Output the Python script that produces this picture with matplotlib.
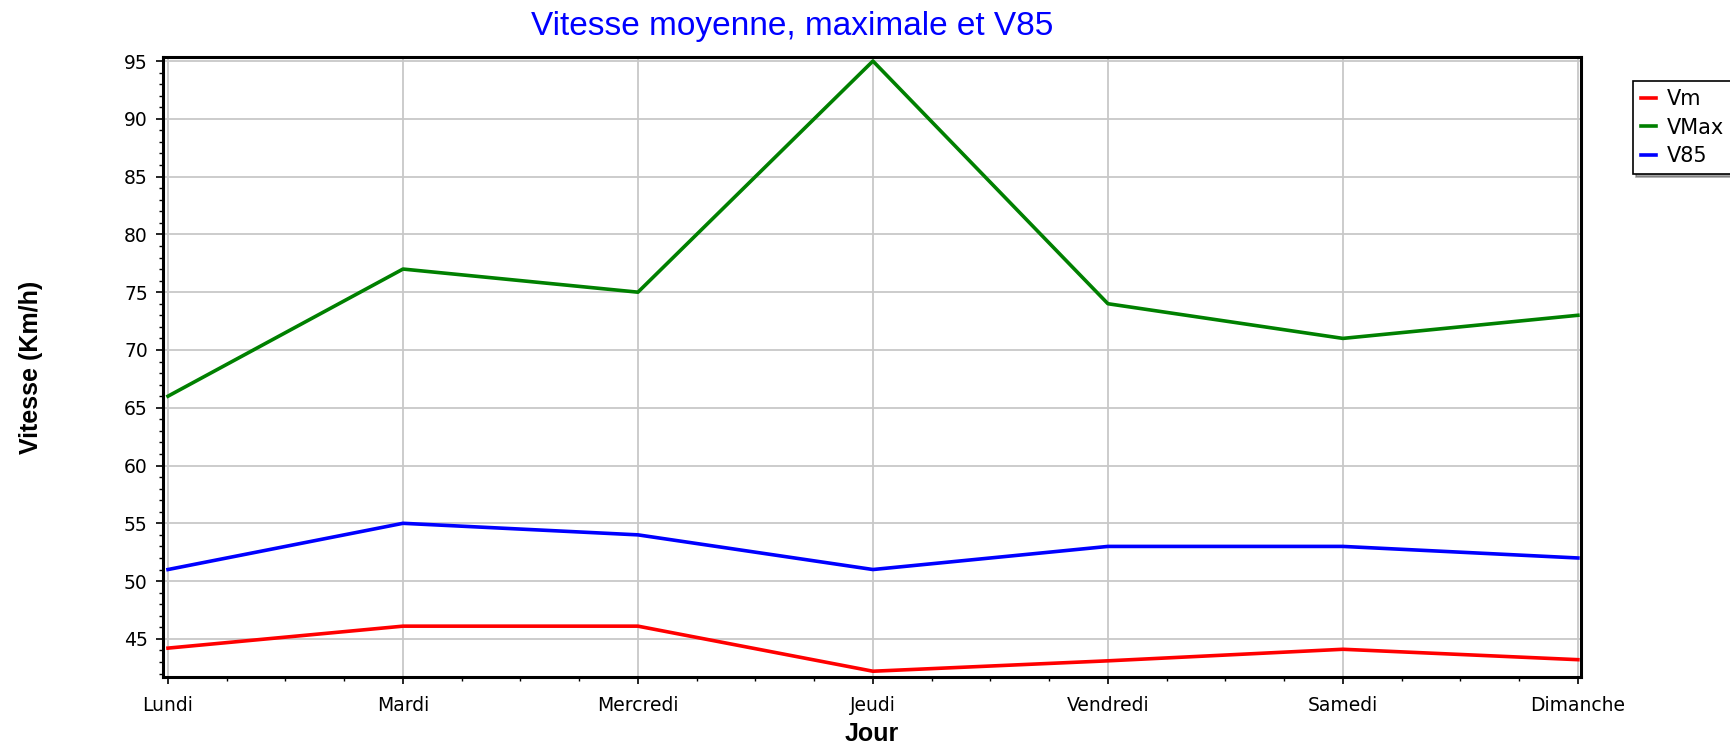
import matplotlib.pyplot as plt
from matplotlib.ticker import MultipleLocator, AutoMinorLocator

# donnees
jours = ['Lundi', 'Mardi', 'Mercredi', 'Jeudi', 'Vendredi', 'Samedi', 'Dimanche']
vm = [44.2, 46.1, 46.1, 42.2, 43.1, 44.1, 43.2]
vmax = [66, 77, 75, 95, 74, 71, 73]
v85 = [51, 55, 54, 51, 53, 53, 52]

plt.rcParams['font.family'] = ['Liberation Sans', 'DejaVu Sans']

fig = plt.figure(figsize=(17.31, 7.47), dpi=100)
ax = fig.add_axes([0.0942, 0.0937, 0.8191, 0.83])

x = list(range(len(jours)))
ax.plot(x, vm, color='#ff0000', lw=2.6, label='Vm')
ax.plot(x, vmax, color='#008000', lw=2.6, label='VMax')
ax.plot(x, v85, color='#0000ff', lw=2.6, label='V85')

ax.set_xlim(-0.021, 6.013)
ax.set_ylim(41.7, 95.35)
ax.set_xticks(x)
ax.set_xticklabels(jours)
ax.xaxis.set_minor_locator(AutoMinorLocator(4))
ax.yaxis.set_major_locator(MultipleLocator(5))
ax.yaxis.set_minor_locator(MultipleLocator(1))
ax.tick_params(axis='both', which='major', direction='out', length=5, width=1.2,
               labelsize=13.5, pad=6)
ax.tick_params(axis='x', which='major', pad=9)
ax.tick_params(axis='both', which='minor', direction='out', length=3, width=1)
for lab in ax.get_xticklabels() + ax.get_yticklabels():
    lab.set_family('DejaVu Sans')
ax.grid(True, which='major', color='#c8c8c8', lw=1.3)
for s in ax.spines.values():
    s.set_linewidth(2.2)
    s.set_color('black')

ax.set_xlabel('Jour', fontsize=18, fontweight='bold')
ax.xaxis.set_label_coords(0.5, -0.072)
ax.set_ylabel('Vitesse (Km/h)', fontsize=18, fontweight='bold')
ax.yaxis.set_label_coords(-0.085, 0.5)

fig.text(792 / 1731, 1 - 26 / 747, 'Vitesse moyenne, maximale et V85', color='#0000ff',
         fontsize=24, ha='center', va='center')

leg = fig.legend(loc='upper left', bbox_to_anchor=(1633 / 1731, 1 - 81 / 747),
                 handlelength=0.7, handletextpad=0.5, labelspacing=0.4,
                 borderpad=0.4, fancybox=False, shadow=True, frameon=True,
                 borderaxespad=0, prop={'family': 'DejaVu Sans', 'size': 15})
leg.get_frame().set_edgecolor('black')
leg.get_frame().set_linewidth(1.2)

fig.savefig('out.png', dpi=100)
